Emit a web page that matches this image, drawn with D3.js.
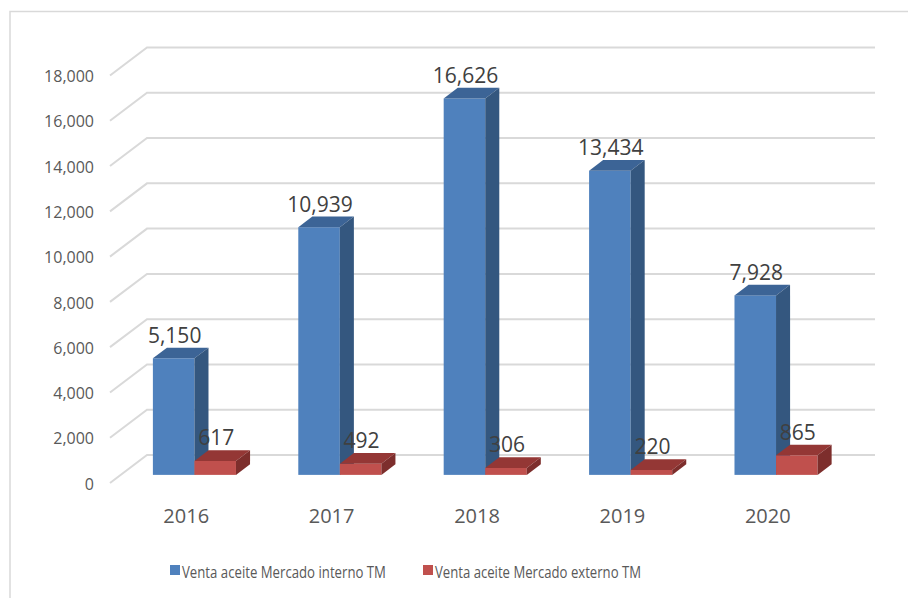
<!DOCTYPE html>
<html>
<head>
<meta charset="utf-8">
<script src="https://cdn.jsdelivr.net/npm/d3@7"></script>
<style>
  body { margin: 0; background: #fff; }
  text { font-family: "Open Sans", "DejaVu Sans", sans-serif; }
</style>
</head>
<body>
<div id="chart"></div>
<script>
// datos
const anios = ["2016", "2017", "2018", "2019", "2020"]
const ventaInterno = [5150, 10939, 16626, 13434, 7928]
const ventaExterno = [617, 492, 306, 220, 865]
const ticksY = [0, 2000, 4000, 6000, 8000, 10000, 12000, 14000, 16000, 18000]
const nombresSeries = ["Venta aceite Mercado interno TM", "Venta aceite Mercado externo TM"]

const colores = [
  { frente: "#4F81BD", arriba: "#3C6496", lado: "#34577F" },
  { frente: "#C0504D", arriba: "#943735", lado: "#7D2E2C" }
]

const ancho = 908
const alto = 598

// plano frontal del grafico y profundidad 3d
const frente = { izq: 111, der: 838, abajo: 483, arriba: 75.5 }
const prof = { dx: 37, dy: -28 }
const barraIni = 0.29   // fraccion de profundidad donde empieza la barra
const barraProf = 0.38  // fraccion de profundidad que ocupa la barra

const svg = d3.select("#chart").append("svg").attr("width", ancho).attr("height", alto)

// borde del area
svg.append("rect")
  .attr("x", 10).attr("y", 11.5).attr("width", 920).attr("height", 620)
  .attr("fill", "none").attr("stroke", "#D9D9D9").attr("stroke-width", 1.5)

const x = d3.scaleBand().domain(anios).range([frente.izq, frente.der])
const xSerie = d3.scaleBand().domain([0, 1]).range([0, x.bandwidth()]).paddingOuter(0.75)
const y = d3.scaleLinear().domain([0, 18000]).range([frente.abajo, frente.arriba])

// lineas de division (pared del fondo)
svg.append("g").attr("id", "rejilla")
  .selectAll("path").data(ticksY).enter().append("path")
  .attr("d", d => {
    const yy = y(d)
    return `M${frente.izq - 1},${yy} L${frente.izq - 1 + prof.dx},${yy + prof.dy} L${frente.der + prof.dx},${yy + prof.dy}`
  })
  .attr("fill", "none").attr("stroke", "#D9D9D9").attr("stroke-width", 2)

// eje y
const grupoY = svg.append("g").attr("transform", "translate(94, 1)")
  .call(d3.axisLeft(y).tickValues(ticksY).tickSize(0).tickPadding(0).tickFormat(d3.format(",")))
grupoY.select(".domain").remove()
grupoY.selectAll("text").attr("fill", "#595959").style("font-size", "16px")

// eje x
const grupoX = svg.append("g").attr("transform", "translate(2.5, 523)")
  .call(d3.axisBottom(x).tickSize(0).tickPadding(0))
grupoX.select(".domain").remove()
grupoX.selectAll("text").attr("y", 0).attr("dy", null).attr("fill", "#595959").style("font-size", "20px")

// barras 3d
const bx = barraIni * prof.dx, by = barraIni * prof.dy
const ddx = barraProf * prof.dx, ddy = barraProf * prof.dy

const series = [ventaInterno, ventaExterno]
const grupoBarras = svg.append("g").attr("id", "barras")
const etiquetas = []

anios.forEach((anio, i) => {
  series.forEach((valores, s) => {
    const v = valores[i]
    const x0 = x(anio) + xSerie(s) + bx
    const x1 = x0 + xSerie.bandwidth()
    const yb = y(0) + by
    const yt = y(v) + by
    const c = colores[s]
    const g = grupoBarras.append("g")
    g.append("rect").attr("x", x0).attr("y", yt).attr("width", x1 - x0).attr("height", yb - yt)
      .attr("fill", c.frente)
    g.append("path")
      .attr("d", `M${x0},${yt} L${x0 + ddx},${yt + ddy} L${x1 + ddx},${yt + ddy} L${x1},${yt} Z`)
      .attr("fill", c.arriba)
    g.append("path")
      .attr("d", `M${x1},${yt} L${x1 + ddx},${yt + ddy} L${x1 + ddx},${yb + ddy} L${x1},${yb} Z`)
      .attr("fill", c.lado)
    etiquetas.push({ x: (x0 + x1) / 2 + 1, y: yt + ddy - 5, v: v })
  })
})

// etiquetas de valores
svg.append("g").selectAll("text").data(etiquetas).enter().append("text")
  .attr("x", d => d.x).attr("y", d => d.y)
  .attr("text-anchor", "middle")
  .attr("fill", "#404040").style("font-size", "21px")
  .text(d => d3.format(",")(d.v))

// leyenda (texto estrecho tipo calibri)
const leyendaX = [170, 423]
const leyendaAncho = [204, 206]
const leyenda = svg.append("g").selectAll("g").data(nombresSeries).enter().append("g")
leyenda.append("rect")
  .attr("x", (d, i) => leyendaX[i]).attr("y", 565).attr("width", 10).attr("height", 10)
  .attr("fill", (d, i) => colores[i].frente)
leyenda.append("text")
  .attr("x", (d, i) => leyendaX[i] + 12).attr("y", 578)
  .attr("fill", "#595959").style("font-size", "15.5px")
  .attr("textLength", (d, i) => leyendaAncho[i])
  .attr("lengthAdjust", "spacingAndGlyphs")
  .text(d => d)
</script>
</body>
</html>
